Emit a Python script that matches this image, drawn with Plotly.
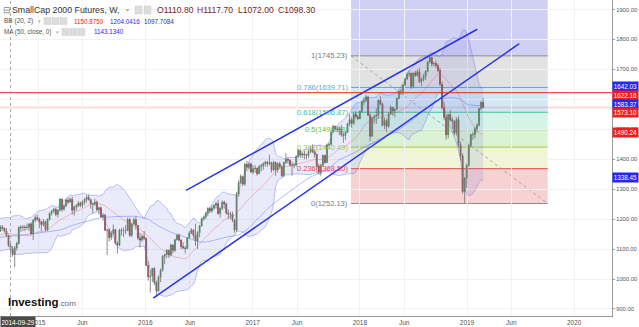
import numpy as np
import pandas as pd
import plotly.graph_objects as go

# ---------------- data (weekly, Monday-dated) ----------------
# closes before the visible window, only used for the indicators (2013-09-02 .. 2014-08-18)
pre_closes = [1036, 1056, 1071, 1074, 1069, 1083, 1114, 1115, 1094, 1095, 1111, 1109, 1142,
              1115, 1110, 1146, 1160,
              1153, 1165, 1166, 1136, 1131, 1126, 1158, 1160, 1183, 1203, 1179, 1193, 1159,
              1153, 1111, 1138, 1125, 1128, 1109, 1101, 1124, 1135, 1150, 1164, 1187, 1186,
              1207, 1169, 1155, 1150, 1114, 1131, 1145, 1160]

last_week = "2019-02-25"

closes = [
    # 2014 (from Aug 25)
    1174, 1170, 1160, 1146, 1111, 1098.3, 1082, 1104, 1119, 1173, 1172, 1173, 1172, 1173, 1184, 1151, 1196, 1205, 1200,
    # 2015
    1191, 1182, 1192, 1165, 1200, 1220, 1227, 1233, 1216, 1230, 1267, 1233, 1244, 1264, 1257, 1266, 1230,
    1240, 1244, 1254, 1246, 1258, 1266, 1273, 1265, 1251, 1250, 1257, 1231, 1238, 1207, 1213, 1163, 1164, 1139,
    1153, 1165, 1120, 1114, 1164, 1162, 1162, 1162, 1199, 1146, 1184, 1198, 1179, 1137, 1130, 1142, 1136,
    # 2016
    1046, 1008, 1010, 1035, 988, 960, 1007, 1029, 1076, 1082, 1096, 1080, 1114, 1096, 1131, 1146, 1130,
    1109, 1104, 1102, 1138, 1154, 1164, 1146, 1127, 1155, 1178, 1201, 1207, 1220, 1236, 1227, 1237, 1246, 1252,
    1219, 1236, 1257, 1251, 1220, 1217, 1217, 1197, 1164, 1283, 1322, 1342, 1317, 1383, 1373, 1384, 1357,
    # 2017
    1368, 1370, 1352, 1376, 1378, 1385, 1390, 1385, 1389, 1365, 1390, 1364, 1385, 1375, 1345, 1389, 1400,
    1397, 1381, 1380, 1381, 1409, 1429, 1414, 1418, 1415, 1413, 1426, 1435, 1425, 1416, 1377, 1357, 1380, 1413,
    1389, 1448, 1450, 1490, 1510, 1502, 1498, 1502, 1482, 1479, 1490, 1519, 1532, 1520, 1551, 1542, 1535,
    # 2018
    1560, 1592, 1597, 1608, 1547, 1477, 1538, 1543, 1546, 1597, 1584, 1513, 1529, 1510, 1551, 1573, 1561, 1567,
    1603, 1627, 1627, 1648, 1668, 1684, 1686, 1643, 1688, 1680, 1692, 1659, 1667, 1677, 1694, 1725, 1740,
    1718, 1720, 1713, 1697, 1650, 1573, 1540, 1482, 1549, 1532, 1527, 1488, 1533, 1448, 1411, 1292, 1337, 1380,
    # 2019
    1447, 1482, 1482, 1502, 1514, 1569, 1590, 1573.1,
]
highs = [
    1180, 1180, 1172, 1170, 1148, 1117.7, 1110, 1110, 1125, 1176, 1180, 1180, 1180, 1185, 1187, 1190, 1200, 1213, 1215,
    1205, 1195, 1200, 1195, 1202, 1222, 1230, 1238, 1238, 1233, 1270, 1268, 1250, 1268, 1272, 1272, 1275,
    1245, 1250, 1260, 1258, 1262, 1270, 1280, 1282, 1268, 1255, 1268, 1262, 1242, 1242, 1220, 1218, 1168, 1170,
    1160, 1182, 1168, 1125, 1168, 1170, 1172, 1180, 1205, 1205, 1188, 1205, 1210, 1180, 1155, 1150, 1160,
    1138, 1060, 1030, 1038, 1040, 995, 1012, 1035, 1080, 1085, 1100, 1098, 1118, 1112, 1135, 1150, 1152,
    1132, 1122, 1110, 1140, 1160, 1170, 1165, 1185, 1160, 1180, 1205, 1212, 1225, 1240, 1240, 1245, 1250, 1258,
    1265, 1240, 1262, 1262, 1255, 1232, 1225, 1225, 1200, 1290, 1330, 1350, 1345, 1388, 1395, 1390, 1390,
    1380, 1380, 1372, 1380, 1385, 1390, 1395, 1395, 1415, 1392, 1395, 1392, 1390, 1392, 1380, 1392, 1420,
    1405, 1400, 1392, 1388, 1412, 1435, 1432, 1422, 1428, 1418, 1430, 1440, 1450, 1430, 1420, 1385, 1385, 1415,
    1415, 1450, 1455, 1495, 1515, 1512, 1510, 1510, 1515, 1490, 1495, 1522, 1550, 1540, 1555, 1560, 1548,
    1562, 1595, 1605, 1615, 1612, 1555, 1542, 1550, 1570, 1600, 1610, 1590, 1540, 1535, 1558, 1580, 1575, 1570,
    1605, 1630, 1635, 1650, 1672, 1690, 1695, 1690, 1690, 1695, 1700, 1705, 1672, 1685, 1698, 1728, 1745.2,
    1742, 1725, 1730, 1720, 1705, 1660, 1590, 1550, 1552, 1565, 1540, 1530, 1540, 1545, 1460, 1420, 1340, 1385,
    1452, 1485, 1490, 1508, 1520, 1572, 1595, 1605,
]
lows = [
    1157, 1162, 1155, 1140, 1108, 1072, 1075, 1040, 1095, 1115, 1158, 1160, 1160, 1165, 1160, 1148, 1130, 1190, 1195,
    1170, 1160, 1175, 1160, 1160, 1195, 1212, 1220, 1210, 1205, 1225, 1225, 1228, 1240, 1250, 1255, 1215,
    1212, 1228, 1240, 1240, 1238, 1248, 1255, 1262, 1235, 1220, 1245, 1228, 1215, 1205, 1195, 1160, 1080, 1125,
    1130, 1145, 1115, 1085, 1110, 1145, 1140, 1150, 1160, 1140, 1140, 1180, 1165, 1130, 1105, 1125, 1130,
    1043, 995, 955, 990, 980, 940, 960, 990, 1025, 1050, 1070, 1070, 1075, 1085, 1090, 1128, 1125,
    1100, 1100, 1085, 1100, 1135, 1150, 1135, 1110, 1100, 1140, 1175, 1195, 1200, 1210, 1220, 1222, 1230, 1235,
    1215, 1205, 1230, 1235, 1215, 1200, 1200, 1190, 1155, 1156, 1275, 1318, 1310, 1312, 1360, 1365, 1355,
    1350, 1355, 1345, 1350, 1360, 1365, 1375, 1375, 1380, 1355, 1360, 1345, 1355, 1368, 1340, 1340, 1385,
    1385, 1375, 1345, 1370, 1375, 1405, 1405, 1405, 1400, 1400, 1405, 1420, 1420, 1405, 1372, 1350, 1345, 1375,
    1385, 1390, 1440, 1445, 1488, 1495, 1490, 1480, 1475, 1455, 1465, 1488, 1510, 1505, 1515, 1535, 1530,
    1535, 1555, 1580, 1590, 1545, 1460, 1475, 1520, 1518, 1535, 1580, 1510, 1500, 1490, 1505, 1548, 1545, 1540,
    1565, 1600, 1615, 1615, 1645, 1665, 1675, 1635, 1640, 1675, 1675, 1655, 1645, 1660, 1665, 1690, 1720,
    1710, 1710, 1705, 1690, 1645, 1565, 1530, 1465, 1470, 1525, 1500, 1480, 1480, 1440, 1395, 1285, 1252.1, 1305,
    1375, 1440, 1465, 1470, 1490, 1510, 1565, 1570,
]

# drawings
trend_up_x = ["2016-05-19", "2019-02-05"]
trend_up_y = [1296, 1834]
trend_lo_x = ["2016-01-28", "2019-06-28"]
trend_lo_y = [936, 1786]

fib_low, fib_high = 1252.13, 1745.23
fib_x0, fib_x1 = "2017-12-02", "2019-10-03"
fib_ratios = [0, 0.236, 0.382, 0.5, 0.618, 0.786, 1, 1.618]
fib_names = ["0", "0.236", "0.382", "0.5", "0.618", "0.786", "1", "1.618"]
fib_line_colors = ["#8c8c8c", "#e84848", "#a5c83c", "#5cbf4c", "#3cc39a", "#5aa8d8", "#8c8c8c", "#5a5ad8"]
fib_fill_colors = ["rgba(225,80,80,0.26)", "rgba(190,215,80,0.24)", "rgba(110,200,80,0.24)",
                   "rgba(70,200,150,0.22)", "rgba(80,160,215,0.25)", "rgba(140,140,140,0.25)",
                   "rgba(80,80,215,0.27)"]

hline_level = 1622.16
crosshair_date = "2014-09-29"

axis_labels = [1642.03, 1622.16, 1583.37, 1573.10, 1490.24, 1338.45]
axis_label_colors = ["#2626f2", "#f21d1d", "#2626f2", "#f21d1d", "#f21d1d", "#2626f2"]
axis_label_shift = [0, -2.6, 0, -5.3, 0, 0]

x_tick_dates = ["2015-01-01", "2015-06-01", "2016-01-01", "2016-06-01", "2017-01-01", "2017-06-01",
                "2018-01-01", "2018-06-01", "2019-01-01", "2019-06-01", "2020-01-01"]
x_tick_text = ["2015", "Jun", "2016", "Jun", "2017", "Jun", "2018", "Jun", "2019", "Jun", "2020"]
y_ticks = [900, 1000, 1100, 1200, 1300, 1400, 1500, 1600, 1700, 1800, 1900]

# ---------------- derived series ----------------
closes_a = np.array(closes, dtype=float)
opens_a = np.concatenate([[pre_closes[-1]], closes_a[:-1]])
opens_a[5] = 1110.8
highs_a = np.maximum.reduce([np.array(highs, float), opens_a, closes_a])
lows_a = np.minimum.reduce([np.array(lows, float), opens_a, closes_a])
dates = pd.date_range(end=last_week, periods=len(closes), freq="W-MON")

all_close = pd.Series(list(pre_closes) + list(closes), dtype=float)
all_dates = pd.date_range(end=last_week, periods=len(all_close), freq="W-MON")
basis = all_close.rolling(20).mean()
sd = all_close.rolling(20).std(ddof=0)
upper = basis + 2 * sd
lower = basis - 2 * sd
ma50 = all_close.rolling(50, min_periods=20).mean()

FONT = "Liberation Sans, Arial"
fig = go.Figure()

# Bollinger band
fig.add_trace(go.Scatter(x=all_dates, y=upper, mode="lines",
                         line=dict(color="rgba(110,120,235,0.55)", width=0.8), hoverinfo="skip"))
fig.add_trace(go.Scatter(x=all_dates, y=lower, mode="lines", fill="tonexty",
                         fillcolor="rgba(95,100,215,0.13)",
                         line=dict(color="rgba(110,120,235,0.55)", width=0.8), hoverinfo="skip"))
fig.add_trace(go.Scatter(x=all_dates, y=basis, mode="lines",
                         line=dict(color="rgba(235,90,90,0.45)", width=0.8), hoverinfo="skip"))
fig.add_trace(go.Scatter(x=all_dates, y=ma50, mode="lines",
                         line=dict(color="rgba(100,115,240,0.6)", width=0.8), hoverinfo="skip"))

# wicks
wx, wy = [], []
for d, h, l in zip(dates, highs_a, lows_a):
    wx += [d, d, None]
    wy += [l, h, None]
fig.add_trace(go.Scatter(x=wx, y=wy, mode="lines", line=dict(color="rgba(120,120,120,0.85)", width=1),
                         hoverinfo="skip"))

# bodies
fig.add_trace(go.Candlestick(
    x=dates, open=opens_a, close=closes_a,
    high=np.maximum(opens_a, closes_a), low=np.minimum(opens_a, closes_a),
    increasing=dict(line=dict(color="#2f8f2f", width=0.6), fillcolor="#3aa93a"),
    decreasing=dict(line=dict(color="#9e1f1f", width=0.6), fillcolor="#c33030"),
    whiskerwidth=0, hoverinfo="skip"))

# trend lines
fig.add_trace(go.Scatter(x=trend_up_x, y=trend_up_y, mode="lines", line=dict(color="#2a35e6", width=1.5)))
fig.add_trace(go.Scatter(x=trend_lo_x, y=trend_lo_y, mode="lines", line=dict(color="#2a35e6", width=1.5)))

shapes = []
annotations = []

# fibonacci retracement
fib_prices = [fib_low + r * (fib_high - fib_low) for r in fib_ratios]
for i in range(len(fib_prices) - 1):
    shapes.append(dict(type="rect", xref="x", yref="y", x0=fib_x0, x1=fib_x1,
                       y0=fib_prices[i], y1=fib_prices[i + 1], fillcolor=fib_fill_colors[i],
                       line=dict(width=0), layer="below"))
for i in range(7):
    shapes.append(dict(type="line", xref="x", yref="y", x0=fib_x0, x1=fib_x1,
                       y0=fib_prices[i], y1=fib_prices[i], line=dict(color=fib_line_colors[i], width=1),
                       layer="below"))
    annotations.append(dict(x=fib_x0, y=fib_prices[i], xref="x", yref="y", xanchor="right",
                            yanchor="middle", xshift=-1, showarrow=False,
                            text=f"{fib_names[i]}({fib_prices[i]:.2f})",
                            font=dict(size=7.5, color=fib_line_colors[i] if i not in (0, 6) else "#7a7a7a",
                                      family=FONT)))
shapes.append(dict(type="line", xref="x", yref="y", x0=fib_x0, x1=fib_x1, y0=fib_high, y1=fib_low,
                   line=dict(color="rgba(150,150,150,0.8)", width=1, dash="dot"), layer="below"))

# last price line and horizontal line
shapes.append(dict(type="line", xref="paper", yref="y", x0=0, x1=1, y0=closes[-1], y1=closes[-1],
                   line=dict(color="rgba(245,150,150,0.35)", width=2), layer="below"))
shapes.append(dict(type="line", xref="paper", yref="y", x0=0, x1=1, y0=hline_level, y1=hline_level,
                   line=dict(color="#f02020", width=1), layer="above"))
# crosshair
shapes.append(dict(type="line", xref="x", yref="paper", x0=crosshair_date, x1=crosshair_date, y0=0, y1=1,
                   line=dict(color="#a8a8a8", width=1, dash="dot"), layer="above"))

# axis labels on right
for v, c, s in zip(axis_labels, axis_label_colors, axis_label_shift):
    annotations.append(dict(x=1, y=v, xref="paper", yref="y", xanchor="left", yanchor="middle",
                            yshift=s, showarrow=False, text=f"{v:.2f}", bgcolor=c, width=24, height=8,
                            borderpad=0.5, font=dict(size=6.3, color="white", family=FONT)))

# crosshair date label
annotations.append(dict(x=0, y=0, xref="paper", yref="paper", xanchor="left", yanchor="top", showarrow=False,
                        text=crosshair_date, bgcolor="#4a4a4a", width=33, height=9, borderpad=0.5,
                        font=dict(size=6.5, color="white", family=FONT)))

PW, PH = 612.0, 316.0


def txt(text, x, y, size, color, bold=False, anchor="left"):
    annotations.append(dict(x=x / PW, y=1 - y / PH, xref="paper", yref="paper", xanchor=anchor,
                            yanchor="middle", showarrow=False,
                            text=f"<b>{text}</b>" if bold else text,
                            font=dict(size=size, color=color, family=FONT)))


def box(x0, y0, w, h):
    shapes.append(dict(type="rect", xref="paper", yref="paper", x0=x0 / PW, x1=(x0 + w) / PW,
                       y0=1 - (y0 + h) / PH, y1=1 - y0 / PH, fillcolor="#dcdcdc",
                       line=dict(color="#cfcfcf", width=0.5), layer="above"))


# header
txt("⊟", 1, 10, 9, "#888")
txt("SmallCap 2000 Futures, W,", 10, 10, 8.8, "#333")
txt("▾", 124, 10, 6, "#aaa")
box(135, 6, 7, 8)
box(144, 6, 7, 8)
for lbl, xx in zip(["O1110.80", "H1117.70", "L1072.00", "C1098.30"], [155, 195, 235.5, 276]):
    txt(lbl, xx, 10, 8.6, "#7a1c1c")
txt("BB (20, 2)", 2, 21, 6.5, "#555")
txt("▾", 36, 21, 5, "#aaa")
box(44, 17.5, 7, 7)
box(52, 17.5, 7, 7)
box(60, 17.5, 7, 7)
txt("1150.8750", 72, 21, 6.3, "#f21d1d")
txt("1204.0416", 108, 21, 6.3, "#2626f2")
txt("1097.7084", 142, 21, 6.3, "#2626f2")
txt("MA (50, close, 0)", 2, 32, 6.3, "#555")
txt("▾", 54, 32, 5, "#aaa")
box(62, 28.5, 7, 7)
box(70, 28.5, 7, 7)
box(78, 28.5, 7, 7)
txt("1143.1340", 92, 32, 6.3, "#2626f2")

# watermark
annotations.append(dict(x=6 / PW, y=1 - 302 / PH, xref="paper", yref="paper", xanchor="left",
                        yanchor="middle", showarrow=False,
                        text="<b>Investing</b><span style='font-size:8px;color:#666'>.com</span>",
                        font=dict(size=11.5, color="#111", family=FONT)))

fig.update_layout(
    width=639, height=327, margin=dict(l=0, r=27, t=0, b=11),
    paper_bgcolor="white", plot_bgcolor="white", showlegend=False,
    shapes=shapes, annotations=annotations,
    xaxis=dict(type="date", range=["2014-08-24", "2020-05-09"], tickvals=x_tick_dates, ticktext=x_tick_text,
               showgrid=True, gridcolor="#f2f2f2", gridwidth=1, showline=True, linecolor="#9a9a9a",
               linewidth=1, ticks="", tickfont=dict(size=6.5, color="#555", family=FONT),
               rangeslider=dict(visible=False), zeroline=False, automargin=False, fixedrange=True),
    yaxis=dict(side="right", range=[876.6, 1931.7], tickvals=y_ticks, tickformat=".2f",
               showgrid=True, gridcolor="#f2f2f2", gridwidth=1, showline=True, linecolor="#9a9a9a",
               linewidth=1, ticks="outside", ticklen=2, tickcolor="#9a9a9a",
               tickfont=dict(size=5.8, color="#555", family=FONT),
               zeroline=False, automargin=False, fixedrange=True),
)

fig.write_html("out.html", config={"displayModeBar": False})
